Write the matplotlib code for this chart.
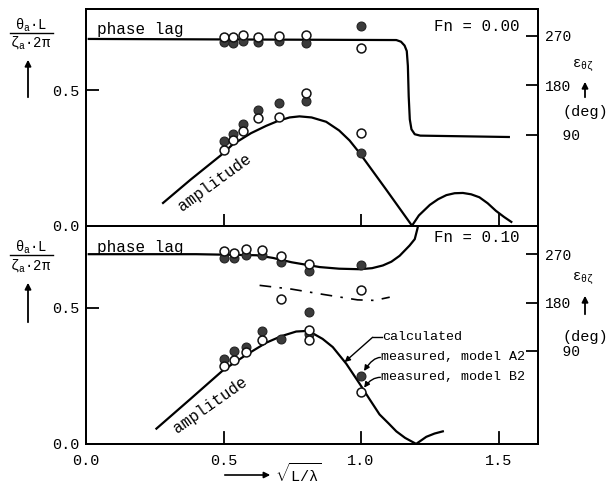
import matplotlib
matplotlib.use('Agg')
import matplotlib.pyplot as plt
from matplotlib.patches import FancyArrowPatch
from matplotlib.lines import Line2D

plt.rcParams['font.family'] = ['Liberation Mono', 'DejaVu Sans Mono']
plt.rcParams['mathtext.fontset'] = 'custom'
plt.rcParams['mathtext.rm'] = 'Liberation Mono'
plt.rcParams['mathtext.it'] = 'Liberation Mono'

# ---------------- data ----------------
x_ticks = [0.0, 0.5, 1.0, 1.5]
amp_ticks = [0.0, 0.5]
phase_ticks = [90, 180, 270]
phase_ticklabels = ['  90', '180', '270']

# Fn = 0.00
x0 = [0.50, 0.535, 0.57, 0.625, 0.70, 0.80, 1.00]
amp0_A2 = [0.312, 0.340, 0.376, 0.428, 0.452, 0.460, 0.268]
amp0_B2 = [0.279, 0.318, 0.350, 0.397, 0.400, 0.490, 0.342]
ph0_A2 = [259, 257, 260, 259, 260, 256, 288]
ph0_B2 = [268, 268, 272, 268, 270, 271, 248]
calc0_x = [0.28, 0.38, 0.49, 0.533, 0.60, 0.655, 0.70, 0.74, 0.776, 0.82, 0.873, 0.92,
           0.958, 0.995, 1.09, 1.185, 1.21, 1.25, 1.28, 1.31, 1.34, 1.37, 1.40, 1.43,
           1.46, 1.49, 1.52, 1.546]
calc0_amp = [0.084, 0.170, 0.260, 0.300, 0.342, 0.369, 0.388, 0.400, 0.404, 0.400, 0.384, 0.352,
             0.315, 0.268, 0.135, 0.0, 0.038, 0.077, 0.098, 0.113, 0.120, 0.121, 0.116, 0.105,
             0.083, 0.055, 0.032, 0.014]
calc0_ph_x = [0.01, 1.128, 1.145, 1.158, 1.166, 1.170, 1.173, 1.177, 1.183, 1.195, 1.215, 1.537]
calc0_ph = [264, 262, 259, 252, 242, 215, 160, 118, 100, 91, 88.5, 86]

# Fn = 0.10
x1_A2_amp = [0.50, 0.537, 0.58, 0.638, 0.71, 0.81, 0.81, 1.00]
amp1_A2 = [0.312, 0.341, 0.355, 0.415, 0.383, 0.485, 0.402, 0.250]
x1_B2_amp = [0.50, 0.537, 0.58, 0.638, 0.81, 0.81, 1.00]
amp1_B2 = [0.286, 0.306, 0.337, 0.380, 0.418, 0.381, 0.189]
x1_A2_ph = [0.50, 0.537, 0.58, 0.638, 0.71, 0.81, 1.00]
ph1_A2 = [262, 262, 268, 268, 255, 238, 250]
x1_B2_ph = [0.50, 0.537, 0.58, 0.638, 0.71, 0.81, 0.71, 1.00]
ph1_B2 = [275, 272, 280, 277, 267, 251, 186, 204]
calc1_x = [0.256, 0.38, 0.497, 0.58, 0.655, 0.71, 0.764, 0.80, 0.825, 0.86, 0.897, 0.946, 0.995,
           1.03, 1.067, 1.10, 1.128, 1.16, 1.20, 1.22, 1.237, 1.267, 1.297]
calc1_amp = [0.056, 0.165, 0.269, 0.325, 0.371, 0.395, 0.412, 0.414, 0.405, 0.385, 0.355, 0.294,
             0.220, 0.165, 0.108, 0.075, 0.046, 0.022, 0.0, 0.014, 0.026, 0.038, 0.046]
calc1_ph_x = [0.01, 0.40, 0.62, 0.68, 0.747, 0.85, 0.92, 0.995, 1.04, 1.079, 1.11, 1.14, 1.176,
              1.195, 1.204, 1.215]
calc1_ph = [270, 270, 268, 263, 255, 246, 243, 242, 244, 249, 256, 267, 286, 298, 316, 340]
dd1_x = [0.631, 0.747, 0.864, 0.987, 1.049, 1.104]
dd1_ph = [212, 205, 195, 185, 184, 190]

# ---------------- figure ----------------
W, H = 609, 487
fig = plt.figure(figsize=(W / 100, H / 100), dpi=100)

def fx(px):
    return px / W

def fy(py):
    return 1 - py / H

left, right = 86, 538
axA = fig.add_axes([fx(left), fy(225.7), fx(right - left), (225.7 - 9.2) / H])
axB = fig.add_axes([fx(left), fy(443.9), fx(right - left), (443.9 - 225.7) / H])

FILL = '#3b3b3b'
LW = 1.6
MS = 6.4

def style(ax, tw_lim, show_x):
    ax.set_xlim(0, 1.643)
    ax.set_ylim(0, 0.80)
    ax.set_xticks(x_ticks[1:])
    ax.set_yticks(amp_ticks)
    ax.set_yticklabels(['0.0', '0.5'])
    ax.tick_params(axis='both', direction='in', length=9, width=1.3, labelsize=11, pad=5)
    if show_x:
        ax.set_xticks(x_ticks)
        ax.set_xticklabels(['0.0', '0.5', '1.0', '1.5'])
        ax.tick_params(axis='x', length=0, pad=7)
    else:
        ax.set_xticklabels([])
    ax.tick_params(axis='y', right=False)
    for s in ax.spines.values():
        s.set_linewidth(1.4)
    tw = ax.twinx()
    tw.set_ylim(*tw_lim)
    tw.set_yticks(phase_ticks)
    tw.set_yticklabels(phase_ticklabels)
    tw.tick_params(axis='y', direction='in', length=9, width=1.3, labelsize=10.5, pad=5)
    for s in tw.spines.values():
        s.set_linewidth(1.4)
    return tw

twA = style(axA, (-75, 318), False)
twB = style(axB, (-83, 323), True)
# inward x tick marks for the bottom panel (labels stay on the axis)
for xv in x_ticks[1:]:
    axB.plot([xv, xv], [0, 0.045], color='k', lw=1.3, clip_on=False)

def markers(ax, x, y, filled):
    if filled:
        ax.plot(x, y, 'o', ms=MS, mfc=FILL, mec='#222222', mew=0.8, ls='none', zorder=4)
    else:
        ax.plot(x, y, 'o', ms=MS, mfc='white', mec='#111111', mew=1.1, ls='none', zorder=5)

# Top panel
axA.plot(calc0_x, calc0_amp, color='k', lw=LW, zorder=3)
twA.plot(calc0_ph_x, calc0_ph, color='k', lw=LW, zorder=3)
markers(axA, x0, amp0_A2, True)
markers(axA, x0, amp0_B2, False)
markers(twA, x0, ph0_A2, True)
markers(twA, x0, ph0_B2, False)

# Bottom panel
axB.plot(calc1_x, calc1_amp, color='k', lw=LW, zorder=3)
twB.plot(calc1_ph_x, calc1_ph, color='k', lw=LW, zorder=3)
twB.plot(dd1_x, dd1_ph, color='k', lw=1.2, ls=(0, (7, 5, 1.5, 5)), zorder=3)
markers(axB, x1_A2_amp, amp1_A2, True)
markers(axB, x1_B2_amp, amp1_B2, False)
markers(twB, x1_A2_ph, ph1_A2, True)
markers(twB, x1_B2_ph, ph1_B2, False)

# Panel texts
for ax, yph, yfn, fn in [(axA, 0.904, 0.918, 'Fn = 0.00'), (axB, 0.902, 0.948, 'Fn = 0.10')]:
    ax.text(0.024, yph, 'phase lag', transform=ax.transAxes, fontsize=11.5,
            ha='left', va='center', zorder=6)
    ax.text(0.96, yfn, fn, transform=ax.transAxes, fontsize=11.3,
            ha='right', va='center', zorder=6)

axA.text(0.467, 0.158, 'amplitude', rotation=36, fontsize=11.5, ha='center', va='center',
         rotation_mode='anchor')
axB.text(0.45, 0.143, 'amplitude', rotation=35, fontsize=11.5, ha='center', va='center',
         rotation_mode='anchor')

# Legend annotations in bottom panel
axB.plot([1.042, 1.076], [0.391, 0.391], color='k', lw=1.0)
axB.annotate('', xy=(0.94, 0.300), xytext=(1.042, 0.391),
             arrowprops=dict(arrowstyle='-|>', color='k', lw=1.0, mutation_scale=8,
                             shrinkA=0, shrinkB=0))
axB.text(1.078, 0.391, 'calculated', fontsize=9.6, ha='left', va='center')
axB.annotate('', xy=(1.0, 0.250), xytext=(1.070, 0.317),
             arrowprops=dict(arrowstyle='-|>', color='k', lw=1.0, mutation_scale=8,
                             shrinkA=0, shrinkB=4, connectionstyle='angle3,angleA=180,angleB=60'))
axB.text(1.073, 0.317, 'measured, model A2', fontsize=9.6, ha='left', va='center')
axB.annotate('', xy=(1.0, 0.189), xytext=(1.070, 0.244),
             arrowprops=dict(arrowstyle='-|>', color='k', lw=1.0, mutation_scale=8,
                             shrinkA=0, shrinkB=4, connectionstyle='angle3,angleA=180,angleB=60'))
axB.text(1.073, 0.244, 'measured, model B2', fontsize=9.6, ha='left', va='center')

# Axis labels (figure coordinates)
def varrow(x, y0, y1):
    fig.add_artist(FancyArrowPatch((fx(x), fy(y0)), (fx(x), fy(y1)), transform=fig.transFigure,
                                   arrowstyle='-|>', mutation_scale=9, lw=1.3, color='k'))

for ynum, yline, yden, ya0, ya1 in [(25, 33, 43, 100, 57), (247, 255, 266, 325, 280)]:
    fig.text(fx(31), fy(ynum), r'$\theta_{a}$·L', ha='center', va='center', fontsize=10)
    fig.add_artist(Line2D([fx(10), fx(53)], [fy(yline), fy(yline)], transform=fig.transFigure,
                          color='k', lw=1.0))
    fig.text(fx(31), fy(yden), r'$\zeta_{a}$·2$\pi$', ha='center', va='center', fontsize=10)
    varrow(28, ya0, ya1)

for yeps, ya0, ya1, ydeg in [(66, 100, 79, 112), (279, 317, 293, 337)]:
    fig.text(fx(583), fy(yeps), r'$\epsilon_{\theta\zeta}$', ha='center', va='center', fontsize=10)
    varrow(585, ya0, ya1)
    fig.text(fx(585), fy(ydeg), '(deg)', ha='center', va='center', fontsize=11)

fig.add_artist(FancyArrowPatch((fx(222), fy(475)), (fx(273), fy(475)), transform=fig.transFigure,
                               arrowstyle='-|>', mutation_scale=9, lw=1.2, color='k'))
fig.text(fx(298), fy(473), r'$\sqrt{L/\lambda}$', ha='center', va='center', fontsize=11)

fig.savefig('out.png', dpi=100)
